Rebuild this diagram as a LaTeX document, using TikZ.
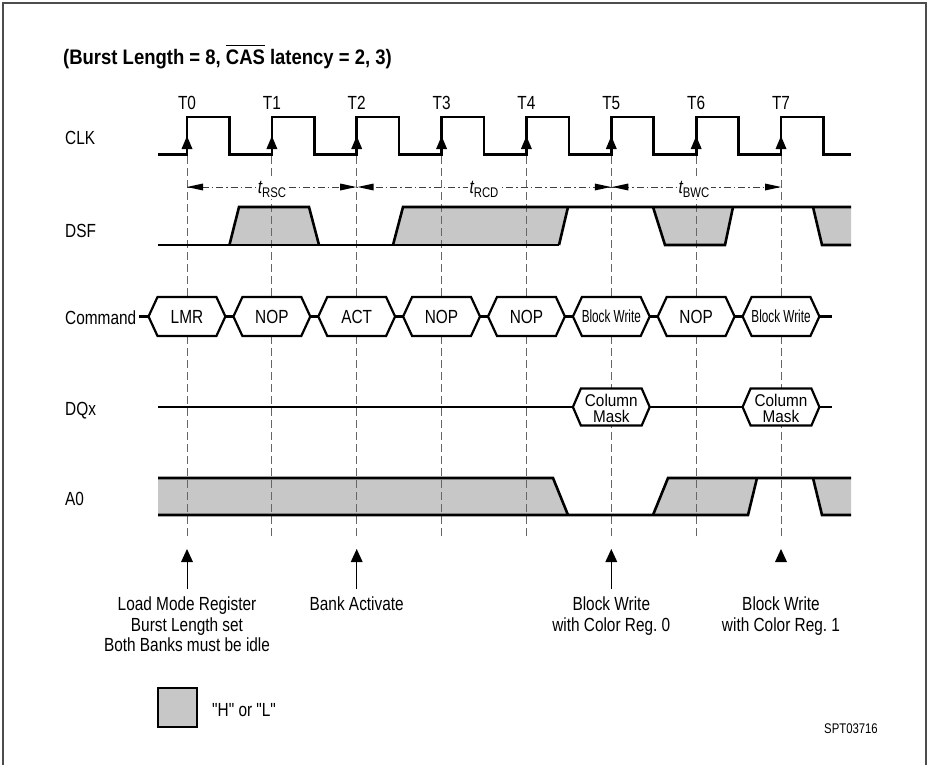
\documentclass[tikz,border=0pt]{standalone}
\usepackage{fontspec}
\setmainfont{Liberation Sans}[FakeStretch=0.81]
\newfontfamily\titlefont{Liberation Sans}[FakeStretch=0.88]
\newfontfamily\bwfont{Liberation Sans}[FakeStretch=0.67]
\newfontfamily\cmfont{Liberation Sans}[FakeStretch=0.9]
\newfontfamily\qfont{Liberation Sans}[FakeStretch=0.81]
\frenchspacing
\newcommand\myovl[1]{\leavevmode\vbox{\hrule height 1.3pt\kern 4.5pt\hbox{#1}}}
\newcommand\tlab[1]{{\fontsize{19}{20}\selectfont\itshape t}{\fontsize{14}{14}\selectfont\raisebox{-4pt}{#1}}}
\begin{document}
\begin{tikzpicture}[x=1pt,y=-1pt,
  sig/.style={line width=2.6pt, line join=miter},
  hexline/.style={line width=2.2pt, line join=miter},
  vline/.style={line width=0.9pt, black!60, dash pattern=on 8pt off 4pt},
  tline/.style={line width=0.8pt, black!75, dash pattern=on 7pt off 3pt on 1.5pt off 3pt},
  dontcare/.style={fill=black!22},
  lbl/.style={anchor=base west, inner sep=0pt, font=\fontsize{19}{20}\selectfont},
  tlbl/.style={anchor=base, inner sep=0pt, font=\fontsize{19}{20}\selectfont},
  hxtext/.style={anchor=center, inner sep=0pt, font=\fontsize{19}{20}\selectfont},
  bwtext/.style={anchor=center, inner sep=0pt, font=\bwfont\fontsize{17.5}{17}\selectfont},
  cmtext/.style={anchor=center, inner sep=0pt, align=center, font=\cmfont\fontsize{17}{16}\selectfont},
  notetext/.style={anchor=north, inner sep=0pt, align=center, font=\fontsize{19}{20.5}\selectfont},
  tarrow/.style={fill=black}
]
\useasboundingbox (0,0) rectangle (934,765);

% frame
\draw[line width=1.2pt, black!70] (3,765) -- (3,3) -- (926,3) -- (926,765);

% title
\node[anchor=base west, inner sep=0pt] (title) at (63,65)
  {\titlefont\bfseries\fontsize{21}{24}\selectfont (Burst Length = 8, \myovl{CAS} latency = 2, 3)};

% signal names
\node[lbl] (lclk) at (65,144) {CLK};
\node[lbl] (ldsf) at (65,237) {DSF};
\node[lbl] (lcmd) at (65,324) {Command};
\node[lbl] (ldqx) at (65,415) {DQx};
\node[lbl] (la0)  at (65,505) {A0};

% don't-care shading (drawn first)
\fill[dontcare] (229.4,245) -- (239,207) -- (309,207) -- (319,245) -- cycle;
\fill[dontcare] (393,245) -- (403,207) -- (568,207) -- (559,245) -- cycle;
\fill[dontcare] (653,207) -- (665,245) -- (725,245) -- (733,207) -- cycle;
\fill[dontcare] (813,207) -- (822,245) -- (851,245) -- (851,207) -- cycle;
\fill[dontcare] (158,478) -- (553,478) -- (568,515) -- (158,515) -- cycle;
\fill[dontcare] (653,515) -- (668,478) -- (757,478) -- (748,515) -- cycle;
\fill[dontcare] (813,478) -- (822,515) -- (851,515) -- (851,478) -- cycle;

% vertical reference lines
\foreach \xa in {187,271.9,356.7,441.6,526.4,611.3,696.2,781}
  \draw[vline] (\xa,156) -- (\xa,536);

% T labels
\foreach \xa [count=\k from 0] in {187,271.9,356.7,441.6,526.4,611.3,696.2,781}
  \node[tlbl] (T\k) at (\xa,110) {T\k};

% CLK
\draw[sig] (158,154.5)
  \foreach \xa/\xb in {187/229.4, 271.9/314.3, 356.7/399.1, 441.6/484.0, 526.4/568.9, 611.3/653.7, 696.2/738.6, 781/823.4}
  { -- (\xa,154.5) -- (\xa,117) -- (\xb,117) -- (\xb,154.5) } -- (851,154.5);
\foreach \xa in {187,271.9,356.7,441.6,526.4,611.3,696.2,781}
  \fill ({\xa-5.5},149) -- (\xa,136) -- ({\xa+5.5},149) -- cycle;

% timing arrows
\draw[tline] (187,187) -- (781,187);
\fill[tarrow] (187,187) -- (203,183.5) -- (203,190.5) -- cycle;
\fill[tarrow] (356.2,187) -- (340.2,183.5) -- (340.2,190.5) -- cycle;
\fill[tarrow] (357.7,187) -- (373.7,183.5) -- (373.7,190.5) -- cycle;
\fill[tarrow] (610.8,187) -- (594.8,183.5) -- (594.8,190.5) -- cycle;
\fill[tarrow] (612.3,187) -- (628.3,183.5) -- (628.3,190.5) -- cycle;
\fill[tarrow] (781,187) -- (765,183.5) -- (765,190.5) -- cycle;
\node[anchor=base, fill=white, inner sep=2pt] (trsc) at (271.9,193) {\tlab{RSC}};
\node[anchor=base, fill=white, inner sep=2pt] (trcd) at (484,193) {\tlab{RCD}};
\node[anchor=base, fill=white, inner sep=2pt] (tbwc) at (694,193) {\tlab{BWC}};

% DSF
\draw[sig] (158,245) -- (559,245);
\draw[sig] (229.4,245) -- (239,207) -- (309,207) -- (319,245);
\draw[sig] (393,245) -- (403,207) -- (851,207);
\draw[sig] (568,207) -- (559,245);
\draw[sig] (653,207) -- (665,245) -- (725,245) -- (733,207);
\draw[sig] (813,207) -- (822,245) -- (851,245);

% Command bus
\draw[hexline] (139,316.5) -- (148.5,316.5);
\foreach \xb in {229.4,314.3,399.1,484.0,568.9,653.7,738.6}
  \draw[hexline] ({\xb-4},316.5) -- ({\xb+4},316.5);
\draw[hexline] (819.4,316.5) -- (832,316.5);
\foreach \xa/\xb/\txt/\st [count=\k] in {144.5/229.4/LMR/hxtext, 229.4/314.3/NOP/hxtext, 314.3/399.1/ACT/hxtext, 399.1/484.0/NOP/hxtext, 484.0/568.9/NOP/hxtext, 568.9/653.7/Block Write/bwtext, 653.7/738.6/NOP/hxtext, 738.6/823.4/Block Write/bwtext}
{
  \draw[hexline, fill=white] ({\xa+4},316.5) -- ({\xa+13},297) -- ({\xb-13},297) -- ({\xb-4},316.5) -- ({\xb-13},336) -- ({\xa+13},336) -- cycle;
  \node[\st] (cmd\k) at ({(\xa+\xb)/2},316.5) {\txt};
}

% DQx
\draw[sig] (158,407) -- (572.9,407);
\draw[sig] (649.7,407) -- (742.6,407);
\draw[hexline] (819.4,407) -- (832,407);
\foreach \xa/\xb [count=\k] in {568.9/653.7, 738.6/823.4}
{
  \draw[hexline, fill=white] ({\xa+4},407) -- ({\xa+12},388.5) -- ({\xb-12},388.5) -- ({\xb-4},407) -- ({\xb-12},425.5) -- ({\xa+12},425.5) -- cycle;
  \node[cmtext] (dq\k) at ({(\xa+\xb)/2},408) {Column\\Mask};
}

% A0
\draw[sig] (158,478) -- (553,478) -- (568,515);
\draw[sig] (158,515) -- (748,515) -- (757,478);
\draw[sig] (653,515) -- (668,478) -- (851,478);
\draw[sig] (813,478) -- (822,515) -- (851,515);

% event arrows
\foreach \xa in {187,356.7,611.3}
  \draw[line width=0.9pt] (\xa,589) -- (\xa,560);
\foreach \xa in {187,356.7,611.3,781}
  \fill ({\xa-6},562) -- (\xa,549) -- ({\xa+6},562) -- cycle;

\node[notetext] (n0) at (187,597) {Load Mode Register\\Burst Length set\\Both Banks must be idle};
\node[notetext] (n2) at (356.7,597) {Bank Activate};
\node[notetext] (n5) at (611.3,597) {Block Write\\with Color Reg. 0};
\node[notetext] (n7) at (781,597) {Block Write\\with Color Reg. 1};

% legend
\draw[line width=2.8pt, dontcare] (158,688) rectangle (197,727);
\node[lbl] (hl) at (212,716) {\qfont "H" or "L"};
\node[anchor=base, inner sep=0pt, font=\fontsize{14}{14}\selectfont] (spt) at (851,733) {SPT03716};
\end{tikzpicture}
\end{document}
